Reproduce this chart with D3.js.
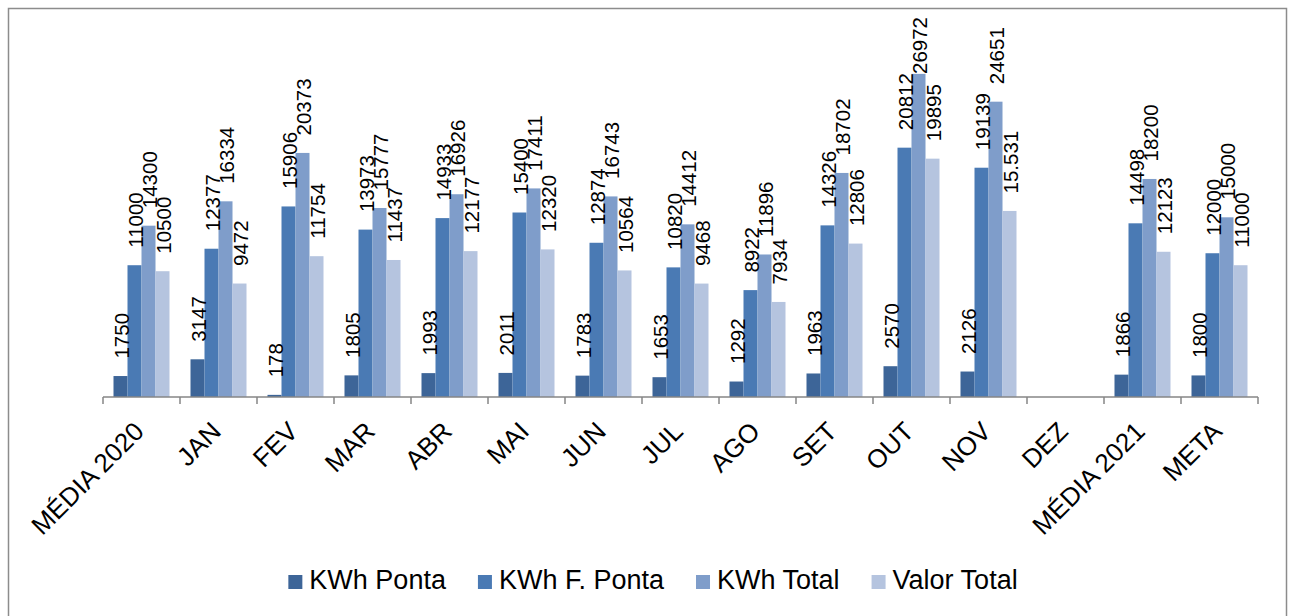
<!DOCTYPE html>
<meta charset="utf-8">
<script type="text/javascript" src="https://cdn.jsdelivr.net/npm/d3@7/dist/d3.min.js"></script>
<style>
body { margin: 0; background: #fff; }
text { font-family: Arial, "Liberation Sans", sans-serif; fill: #000; }
.axis path, .axis line { stroke: #868686; stroke-width: 1.5px; }
</style>
<body>
<script>

// categories and series
var categories = ["MÉDIA 2020", "JAN", "FEV", "MAR", "ABR", "MAI", "JUN", "JUL", "AGO", "SET", "OUT", "NOV", "DEZ", "MÉDIA 2021", "META"];
var seriesNames = ["KWh Ponta", "KWh F. Ponta", "KWh Total", "Valor Total"];
var kwhPonta  = [1750, 3147, 178, 1805, 1993, 2011, 1783, 1653, 1292, 1963, 2570, 2126, null, 1866, 1800];
var kwhFPonta = [11000, 12377, 15906, 13973, 14933, 15400, 12874, 10820, 8922, 14326, 20812, 19139, null, 14498, 12000];
var kwhTotal  = [14300, 16334, 20373, 15777, 16926, 17411, 16743, 14412, 11896, 18702, 26972, 24651, null, 18200, 15000];
var valorTotal = [10500, 9472, 11754, 11437, 12177, 12320, 10564, 9468, 7934, 12806, 19895, 15531, null, 12123, 11000];
// the NOV label is printed differently in the original
var valorLabels = ["10500", "9472", "11754", "11437", "12177", "12320", "10564", "9468", "7934", "12806", "19895", "15.531", "", "12123", "11000"];
var colors = ["#3d6598", "#4a7ab4", "#7f9dca", "#b5c4df"];

var width = 1289,
    height = 616;

var allSeries = [kwhPonta, kwhFPonta, kwhTotal, valorTotal];

var svg = d3.select("body").append("svg")
    .attr("width", width)
    .attr("height", height);

// outer frame of the chart (runs past the bottom edge)
svg.append("rect")
    .attr("x", 8.5)
    .attr("y", 8.5)
    .attr("width", 1278)
    .attr("height", 640)
    .attr("fill", "none")
    .attr("stroke", "#8c8c8c")
    .attr("stroke-width", 1.5);

var x = d3.scaleBand()
    .domain(categories)
    .range([103, 1258]);

var xs = d3.scaleBand()
    .domain(seriesNames)
    .range([0, x.bandwidth()])
    .paddingInner(0)
    .paddingOuter(0.75);

var y = d3.scaleLinear()
    .domain([0, 30000])
    .range([397, 37.6]);

// flatten to one record per bar
var bars = [];
categories.forEach(function(c, i) {
  seriesNames.forEach(function(s, j) {
    var v = allSeries[j][i];
    if (v == null) return;
    var label = j == 3 ? valorLabels[i] : String(v);
    bars.push({cat: c, series: s, idx: j, value: v, label: label});
  });
});

svg.append("g")
  .selectAll("rect")
  .data(bars)
  .enter().append("rect")
    .attr("x", function(d) { return x(d.cat) + xs(d.series); })
    .attr("y", function(d) { return y(d.value); })
    .attr("width", xs.bandwidth())
    .attr("height", function(d) { return y(0) - y(d.value); })
    .attr("fill", function(d) { return colors[d.idx]; });

// axis line with ticks on category boundaries
var axisG = svg.append("g").attr("class", "axis");
axisG.append("line")
    .attr("x1", 103).attr("x2", 1258)
    .attr("y1", y(0)).attr("y2", y(0));
var bounds = categories.map(function(c) { return x(c); }).concat([x.range()[1]]);
axisG.selectAll(".tick")
  .data(bounds)
  .enter().append("line")
    .attr("class", "tick")
    .attr("x1", function(d) { return d; })
    .attr("x2", function(d) { return d; })
    .attr("y1", y(0))
    .attr("y2", y(0) + 7);

// category labels, rotated
svg.append("g")
  .selectAll("text")
  .data(categories)
  .enter().append("text")
    .attr("transform", function(d) {
      return "translate(" + (x(d) + x.bandwidth() / 2 + 4) + "," + 433 + ") rotate(-45)";
    })
    .attr("text-anchor", "end")
    .style("font-size", "26px")
    .text(function(d) { return d; });

// value labels above bars, vertical
var labels = svg.append("g")
  .selectAll("text")
  .data(bars)
  .enter().append("text")
    .style("font-size", "20.5px")
    .attr("dy", "0.35em")
    .text(function(d) { return d.label; });

labels.attr("transform", function(d) {
  var len = this.getComputedTextLength();
  var cx = x(d.cat) + xs(d.series) + xs.bandwidth() / 2 + 1.5;
  var start = y(d.value) - 17.5;
  if (start - len < 17) start = 17 + len;
  return "translate(" + cx + "," + start + ") rotate(-90)";
});

// legend
var legend = svg.append("g");
var items = legend.selectAll("g")
  .data(seriesNames)
  .enter().append("g");
items.append("rect")
    .attr("width", 14)
    .attr("height", 14)
    .attr("y", -14)
    .attr("fill", function(d, i) { return colors[i]; });
items.append("text")
    .attr("x", 21)
    .style("font-size", "27px")
    .text(function(d) { return d; });

var pos = 0;
items.each(function() {
  d3.select(this).attr("transform", "translate(" + pos + ",0)");
  pos += 21 + d3.select(this).select("text").node().getComputedTextLength() + 32;
});
var legendW = pos - 32;
legend.attr("transform", "translate(" + (653 - legendW / 2) + "," + 589 + ")");

</script>
</body>
